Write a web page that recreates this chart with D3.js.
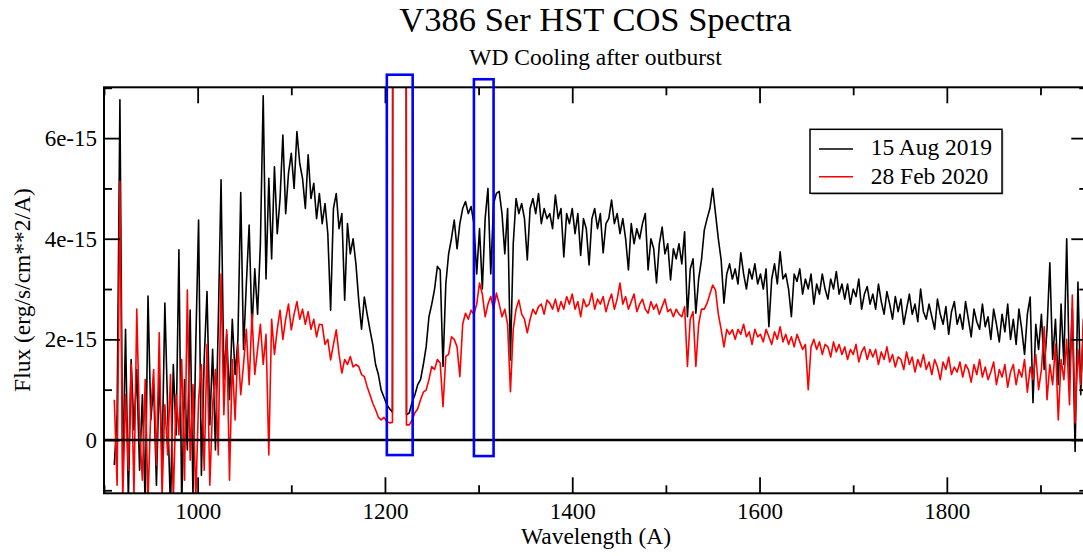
<!DOCTYPE html>
<html><head><meta charset="utf-8">
<script src="https://cdn.jsdelivr.net/npm/d3@7"></script>
<style>body{margin:0;background:#fff;} svg{display:block;font-family:"Liberation Serif","Times New Roman",serif;}</style>
</head><body><svg id="c" width="1083" height="556"></svg>
<script>
// Wavelength grid (Angstrom) for the sampled spectra
const wlStart = 911, wlStep = 3;
// Flux in units of 1e-15 erg/s/cm^2/A
const flux2019 = [
-0.5,0.5,6.76,-0.8,2.2,-1.2,1.6,0.2,1.4,-0.6,
0.9,-1.3,2.86,0.4,1.1,-0.9,1.3,-0.4,2.72,0.6,
-1.4,1.5,0.1,3.78,-1.3,1.2,-0.2,2.58,-1.1,1.9,
4.37,-0.7,1.6,2.95,0.3,1.8,-0.2,2.3,5.17,1.2,
2.1,0.8,2.4,1.3,2.0,4.92,1.8,3.1,4.27,2.2,
3.4,2.5,3.9,6.84,3.2,5.2,3.6,5.43,4.1,4.8,
6.06,4.5,5.3,5.7,5.0,6.13,5.5,5.2,4.6,5.67,
4.8,5.1,4.4,4.9,4.3,4.7,4.1,2.58,4.6,4.9,
4.2,4.5,2.78,4.3,3.7,4.0,3.5,2.78,2.2,2.84,
2.5,2.19,1.9,1.5,1.3,0.99,0.85,0.7,0.62,0.55,
80,80,80,80,0.5,0.54,0.75,0.9,1.1,1.2,
1.5,1.85,2.45,2.7,3.0,3.45,3.38,1.46,3.1,3.7,
4.0,4.37,3.8,4.3,4.6,4.74,4.5,4.64,4.3,3.3,
4.2,3.0,4.4,5.0,3.3,4.7,4.9,4.94,4.5,3.7,
4.6,1.59,3.9,4.8,4.5,4.7,4.4,3.58,4.6,4.8,
4.5,4.9,4.3,4.6,4.4,4.5,4.2,4.87,4.4,4.6,
3.64,4.5,4.3,4.6,4.1,4.5,3.67,4.4,4.2,3.48,
4.4,4.6,4.2,4.5,3.72,4.3,4.4,4.77,4.3,4.5,
4.1,4.4,4.0,3.38,4.3,3.9,4.2,4.0,4.3,4.5,
3.38,4.0,3.8,3.12,3.9,4.23,3.7,3.9,3.18,3.8,
3.6,3.9,3.5,4.14,2.45,3.4,3.6,2.52,3.2,3.58,
4.17,4.4,4.6,5.0,4.5,4.0,3.58,2.72,3.3,3.5,
3.2,3.4,3.1,3.72,3.3,3.0,3.4,3.2,3.5,3.1,
3.3,3.0,3.4,2.25,3.2,3.5,3.1,3.74,3.2,3.3,
3.0,2.45,3.3,3.15,3.4,2.9,3.2,3.0,3.3,2.7,
3.1,2.9,3.3,3.0,2.8,3.2,3.0,3.35,2.9,3.1,
2.8,3.1,2.7,3.0,2.85,3.2,2.6,2.9,3.05,2.7,
2.9,2.6,3.1,2.75,2.5,2.95,2.7,2.4,2.85,2.55,
2.8,2.3,2.6,2.9,2.5,2.7,2.35,3.0,2.55,2.4,
2.7,2.45,2.2,2.8,2.5,2.3,2.65,2.1,2.55,2.75,
2.3,2.5,2.2,2.75,2.4,2.05,2.6,2.35,2.2,2.7,
2.25,2.45,2.0,2.6,2.3,1.95,2.5,2.15,2.7,2.0,
2.4,1.9,2.6,2.2,1.7,2.5,2.84,0.74,2.3,1.8,
2.5,1.4,2.2,3.52,1.6,2.4,1.1,2.7,1.5,4.0,
1.2,2.6,-0.23,3.14,0.9,2.4,1.5
];
const flux2020 = [
0.8,-0.9,5.14,-1.2,0.9,-0.6,1.5,-1.1,2.6,0.2,
-0.8,1.2,-1.2,0.6,1.4,-0.5,2.13,-1.1,0.7,-0.3,
1.3,-1.2,0.9,0.1,1.6,-0.8,2.98,-0.4,1.1,-1.2,
0.8,1.5,-0.6,1.9,-0.9,0.7,1.4,-0.3,3.3,0.5,
2.19,-0.8,1.6,0.4,1.9,0.9,1.5,2.2,1.1,2.5,
1.3,1.8,2.3,1.5,2.1,-0.3,2.4,1.7,2.2,2.58,
2.0,2.4,2.7,2.19,2.5,2.75,2.4,2.6,2.3,2.55,
2.2,2.4,2.05,2.3,2.29,1.9,2.0,1.59,1.9,2.19,
1.7,1.33,1.6,1.5,1.66,1.45,1.5,1.46,1.3,1.26,
1.06,0.9,0.73,0.6,0.45,0.4,0.45,0.36,0.34,0.35,
80,80,80,80,0.3,0.3,0.4,0.54,0.62,0.8,
0.95,0.99,1.2,1.46,1.4,1.6,1.53,0.66,1.66,1.7,
2.05,2.0,1.85,1.26,2.3,2.52,2.4,2.58,2.5,2.7,
3.12,2.9,2.45,2.7,2.85,2.6,2.92,2.7,2.45,2.6,
2.3,0.96,2.2,2.6,2.78,2.5,2.4,2.13,2.4,2.6,
2.5,2.65,2.7,2.5,2.78,2.72,2.6,2.8,2.55,2.75,
2.6,2.85,2.7,2.9,2.6,2.75,2.45,2.8,2.65,2.7,
2.92,2.6,2.8,2.7,2.85,2.55,2.75,2.9,2.6,2.8,
3.12,2.7,2.85,2.6,2.75,2.9,2.55,2.7,2.8,2.6,
2.52,2.75,2.6,2.7,2.5,2.65,2.8,2.55,2.6,2.45,
2.6,2.5,2.45,2.65,1.46,2.4,2.55,1.46,2.3,2.6,
2.6,2.72,2.9,3.08,2.98,2.5,2.2,1.85,2.2,2.1,
2.19,2.0,2.2,2.1,2.3,2.05,2.15,1.9,2.2,2.05,
2.1,1.95,2.2,2.05,1.9,2.15,2.0,2.25,1.95,2.1,
1.9,2.05,1.85,2.1,1.95,1.8,1.9,1.0,1.85,2.0,
1.8,1.95,1.7,1.9,1.85,1.65,1.95,1.75,1.9,1.7,
1.85,1.6,1.8,1.7,1.9,1.55,1.75,1.85,1.6,1.8,
1.65,1.8,1.5,1.75,1.6,1.85,1.55,1.7,1.45,1.65,
1.6,1.4,1.75,1.5,1.65,1.35,1.6,1.45,1.7,1.4,
1.55,1.3,1.6,1.45,1.2,1.55,1.4,1.65,1.3,1.45,
1.35,1.55,1.25,1.5,1.4,1.15,1.5,1.3,1.6,1.25,
1.45,1.2,1.35,1.55,1.1,1.4,1.25,1.5,1.05,1.35,
1.5,1.1,1.4,1.25,1.6,0.95,1.45,1.2,1.7,1.0,
1.4,2.25,0.8,1.5,1.1,1.9,0.4,1.6,1.2,2.0,
0.7,2.88,0.34,1.8,1.1,2.4,0.9
];
const seriesNames = ["15 Aug 2019", "28 Feb 2020"];
const seriesColors = ["#000000", "#ff0000"];
const xMajorTicks = [1000, 1200, 1400, 1600, 1800];
const xMinorTicks = [900, 1100, 1300, 1500, 1700, 1900];
const yMajorTicks = [0, 2, 4, 6];
const yTickLabels = ["0", "2e-15", "4e-15", "6e-15"];
const yMinorTicks = [-1, 1, 3, 5, 7];
// highlight boxes: [wl0, wl1, fluxTop, fluxBottom]
const boxes = [[1202, 1229.6, 7.26, -0.30], [1295, 1316, 7.17, -0.32]];

const wavelengths = flux2019.map((_, i) => wlStart + wlStep * i);

const svg = d3.select("#c");
const L = 104, R = 1087.3, T = 87.3, B = 493.3;
const x = d3.scaleLinear().domain([900, 1950]).range([L, R]);
const y = d3.scaleLinear().domain([-1.06, 7.01]).range([B, T]);

svg.append("defs").append("clipPath").attr("id", "clip")
  .append("rect").attr("x", L).attr("y", T).attr("width", R - L).attr("height", B - T);

const plot = svg.append("g").attr("clip-path", "url(#clip)");
const line = d3.line().x(d => x(d[0])).y(d => y(d[1]));
[flux2019, flux2020].forEach((s, si) => {
  plot.append("path")
    .datum(s.map((v, i) => [wavelengths[i], v]))
    .attr("d", line).attr("fill", "none")
    .attr("stroke", seriesColors[si]).attr("stroke-width", 1.6)
    .attr("stroke-linejoin", "round");
});
// zero line
plot.append("line").attr("x1", L).attr("x2", R).attr("y1", y(0)).attr("y2", y(0))
  .attr("stroke", "#000").attr("stroke-width", 2.5);

// axes (inward ticks on all sides)
const fs = "23px";
function styleAxis(g) {
  g.select(".domain").remove();
  g.selectAll(".tick line").attr("stroke", "#000").attr("stroke-width", 1.8);
  g.selectAll("text").attr("font-size", fs).attr("fill", "#000")
    .attr("font-family", '"Liberation Serif","Times New Roman",serif');
}
svg.append("g").attr("transform", `translate(0,${B})`)
  .call(d3.axisBottom(x).tickValues(xMajorTicks).tickSize(-16).tickSizeOuter(0).tickPadding(9).tickFormat(d3.format("d"))).call(styleAxis);
svg.append("g").attr("transform", `translate(0,${B})`)
  .call(d3.axisBottom(x).tickValues(xMinorTicks).tickSize(-8).tickSizeOuter(0).tickFormat("")).call(styleAxis);
svg.append("g").attr("transform", `translate(0,${T})`)
  .call(d3.axisTop(x).tickValues(xMajorTicks).tickSize(-16).tickSizeOuter(0).tickFormat("")).call(styleAxis);
svg.append("g").attr("transform", `translate(0,${T})`)
  .call(d3.axisTop(x).tickValues(xMinorTicks).tickSize(-8).tickSizeOuter(0).tickFormat("")).call(styleAxis);
svg.append("g").attr("transform", `translate(${L},0)`)
  .call(d3.axisLeft(y).tickValues(yMajorTicks).tickSize(-16).tickSizeOuter(0).tickPadding(7).tickFormat((d, i) => yTickLabels[i])).call(styleAxis);
svg.append("g").attr("transform", `translate(${L},0)`)
  .call(d3.axisLeft(y).tickValues(yMinorTicks).tickSize(-8).tickSizeOuter(0).tickFormat("")).call(styleAxis);
svg.append("g").attr("transform", `translate(${R},0)`)
  .call(d3.axisRight(y).tickValues(yMajorTicks).tickSize(-16).tickSizeOuter(0).tickFormat("")).call(styleAxis);
svg.append("g").attr("transform", `translate(${R},0)`)
  .call(d3.axisRight(y).tickValues(yMinorTicks).tickSize(-8).tickSizeOuter(0).tickFormat("")).call(styleAxis);

// frame
svg.append("rect").attr("x", L).attr("y", T).attr("width", R - L).attr("height", B - T)
  .attr("fill", "none").attr("stroke", "#000").attr("stroke-width", 2);

// highlight boxes
boxes.forEach(b => {
  svg.append("rect").attr("x", x(b[0])).attr("y", y(b[2]))
    .attr("width", x(b[1]) - x(b[0])).attr("height", y(b[3]) - y(b[2]))
    .attr("fill", "none").attr("stroke", "#0000ff").attr("stroke-width", 2.6);
});

// titles
svg.append("text").attr("x", 595.5).attr("y", 31).attr("text-anchor", "middle")
  .attr("font-size", "34.5px").text("V386 Ser HST COS Spectra");
svg.append("text").attr("x", 595.5).attr("y", 65).attr("text-anchor", "middle")
  .attr("font-size", "23.5px").text("WD Cooling after outburst");
svg.append("text").attr("x", 596).attr("y", 544).attr("text-anchor", "middle")
  .attr("font-size", "23.5px").text("Wavelength (A)");
svg.append("text").attr("transform", "translate(30,290) rotate(-90)").attr("text-anchor", "middle")
  .attr("font-size", "23.5px").text("Flux (erg/s/cm**2/A)");

// legend
const lg = svg.append("g");
lg.append("rect").attr("x", 811.5).attr("y", 130.8).attr("width", 192).attr("height", 64)
  .attr("fill", "#bbb");
lg.append("rect").attr("x", 810).attr("y", 129.3).attr("width", 192).attr("height", 64)
  .attr("fill", "#fff").attr("stroke", "#000").attr("stroke-width", 1.5);
seriesNames.forEach((n, i) => {
  const yy = [149, 176.7][i];
  lg.append("line").attr("x1", 819).attr("x2", 853).attr("y1", yy).attr("y2", yy)
    .attr("stroke", seriesColors[i]).attr("stroke-width", 1.5);
  lg.append("text").attr("x", 870.7).attr("y", [155, 184][i]).attr("font-size", "23.5px").text(n);
});
</script></body></html>
